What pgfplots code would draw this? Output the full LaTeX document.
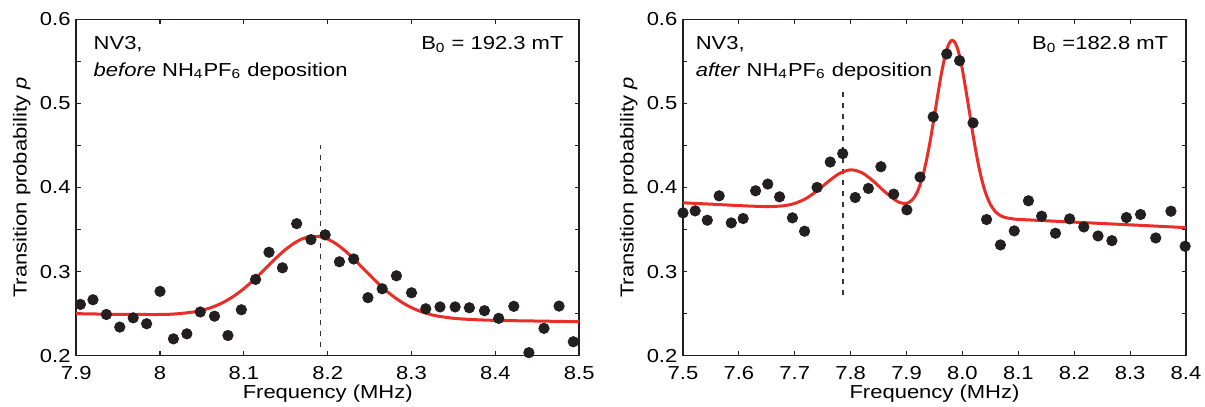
\documentclass[border=0pt]{standalone}
\usepackage{fontspec}
\setmainfont{Liberation Sans}[FakeStretch=1.17]
\usepackage{pgfplots}
\pgfplotsset{compat=1.18}
\definecolor{fitred}{RGB}{235,45,40}
\definecolor{axisblack}{RGB}{35,31,32}
\tikzset{note/.style={inner sep=0pt}}
\pgfplotsset{
  panel/.style={
    scale only axis, width=251.5pt, height=168.2pt,
    ymin=0.2, ymax=0.6,
    ytick={0.2,0.3,0.4,0.5,0.6},
    minor ytick={0.25,0.35,0.45,0.55},
    major tick length=2.2pt, minor tick length=2.2pt,
    tick style={axisblack, line width=0.6pt},
    axis line style={axisblack, line width=0.8pt},
    /pgf/number format/assume math mode=true,
    xticklabel style={yshift=-2pt},
    yticklabel style={xshift=0.5pt},
    ylabel={Transition probability \textit{p}},
    xlabel={Frequency (MHz)},
    ylabel style={at={(axis description cs:-0.0984,0.5)}, anchor=base},
    xlabel style={at={(axis description cs:0.5,0)}, anchor=base, yshift=-21.3pt},
    clip=false,
  },
  dots/.style={only marks, mark=*, mark size=2.6pt, axisblack},
  fit/.style={fitred, line width=1.5pt, smooth, no marks},
  vdash/.style={black!80, line width=0.8pt, dash pattern=on 2.5pt off 3pt, no marks},
}
\begin{document}
\fontsize{9.4pt}{11pt}\selectfont
\begin{tikzpicture}
\path[use as bounding box] (-38.1pt,-25.65pt) rectangle (564.4pt,177.85pt);
% ---------- left panel ----------
\begin{axis}[panel, at={(0pt,0pt)}, anchor=south west,
  xmin=7.9, xmax=8.5,
  xtick={7.9,8.0,8.1,8.2,8.3,8.4,8.5},
  xticklabels={7.9,8,8.1,8.2,8.3,8.4,8.5}]
\addplot[vdash] coordinates {(8.1913,0.21) (8.1913,0.4505)};
\addplot[dots] coordinates {
(7.905,0.261) (7.920,0.2665) (7.936,0.249) (7.952,0.234) (7.968,0.245)
(7.984,0.238) (8.000,0.2765) (8.016,0.220) (8.032,0.226) (8.048,0.252)
(8.065,0.247) (8.081,0.224) (8.097,0.2546) (8.114,0.2907) (8.130,0.323)
(8.146,0.3045) (8.163,0.357) (8.180,0.338) (8.197,0.3437) (8.214,0.3117)
(8.231,0.315) (8.248,0.269) (8.265,0.2796) (8.282,0.295) (8.300,0.2748)
(8.317,0.2558) (8.334,0.258) (8.352,0.258) (8.369,0.257) (8.387,0.2535)
(8.404,0.2444) (8.422,0.2587) (8.440,0.2036) (8.458,0.2325) (8.476,0.259)
(8.493,0.2166)};
\addplot[fit] coordinates {
(7.90,0.2500) (7.95,0.2492) (8.00,0.2490) (8.02,0.2498) (8.04,0.2520)
(8.05,0.2540) (8.06,0.2569) (8.07,0.2608) (8.08,0.2659) (8.09,0.2722)
(8.10,0.2798) (8.11,0.2885) (8.12,0.2980) (8.13,0.3079) (8.14,0.3177)
(8.15,0.3265) (8.16,0.3338) (8.17,0.3391) (8.18,0.3417) (8.19,0.3416)
(8.20,0.3386) (8.21,0.3330) (8.22,0.3254) (8.23,0.3162) (8.24,0.3062)
(8.25,0.2960) (8.26,0.2861) (8.27,0.2771) (8.28,0.2692) (8.29,0.2626)
(8.30,0.2571) (8.31,0.2529) (8.32,0.2497) (8.33,0.2473) (8.35,0.2445)
(8.37,0.2431) (8.40,0.2420) (8.45,0.2412) (8.50,0.2404)};
\node[note, anchor=base west, xshift=8.55pt, yshift=-15pt] at (rel axis cs:0,1) {NV3,};
\node[note, anchor=base west, xshift=8.55pt, yshift=-28.35pt] at (rel axis cs:0,1) {\textit{before} NH\textsubscript{4}PF\textsubscript{6} deposition};
\node[note, anchor=base east, xshift=-7.65pt, yshift=-15pt] at (rel axis cs:1,1) {B\textsubscript{0} = 192.3 mT};
\end{axis}
% ---------- right panel ----------
\begin{axis}[panel, at={(303.4pt,0pt)}, anchor=south west,
  xmin=7.5, xmax=8.4,
  xtick={7.5,7.6,7.7,7.8,7.9,8.0,8.1,8.2,8.3,8.4},
  xticklabels={7.5,7.6,7.7,7.8,7.9,8.0,8.1,8.2,8.3,8.4}]
\addplot[vdash] coordinates {(7.7858,0.2716) (7.7858,0.5142)};
\addplot[dots] coordinates {
(7.5000,0.3698) (7.5218,0.3722) (7.5435,0.3611) (7.5647,0.3901) (7.5864,0.3579)
(7.6076,0.3631) (7.6299,0.3961) (7.6517,0.4041) (7.6728,0.3889) (7.6958,0.3639)
(7.7175,0.3480) (7.7399,0.4001) (7.7634,0.4303) (7.7858,0.4403) (7.8082,0.3881)
(7.8317,0.3989) (7.8541,0.4247) (7.8770,0.3921) (7.9006,0.3734) (7.9242,0.4124)
(7.9477,0.4840) (7.9719,0.5588) (7.9949,0.5508) (8.0190,0.4768) (8.0432,0.3619)
(8.0680,0.3317) (8.0927,0.3484) (8.1181,0.3842) (8.1417,0.3659) (8.1665,0.3456)
(8.1918,0.3627) (8.2172,0.3531) (8.2426,0.3424) (8.2674,0.3368) (8.2934,0.3643)
(8.3187,0.3679) (8.3459,0.3400) (8.3731,0.3718) (8.3985,0.3301)};
\addplot[fit] coordinates {
(7.50,0.3818) (7.55,0.3802) (7.60,0.3785) (7.65,0.3773) (7.68,0.3783)
(7.70,0.3811) (7.72,0.3869) (7.74,0.3961) (7.76,0.4071) (7.78,0.4167)
(7.80,0.4210) (7.82,0.4176) (7.84,0.4079) (7.86,0.3956) (7.88,0.3849)
(7.89,0.3817) (7.90,0.3812) (7.91,0.3851) (7.92,0.3959) (7.93,0.4162)
(7.94,0.4470) (7.95,0.4860) (7.96,0.5268) (7.965,0.5445) (7.97,0.5595)
(7.975,0.5696) (7.98,0.5746) (7.985,0.5739) (7.99,0.5674) (7.995,0.5559)
(8.00,0.5400) (8.01,0.5003) (8.02,0.4584) (8.03,0.4225) (8.04,0.3964)
(8.05,0.3798) (8.06,0.3705) (8.07,0.3659) (8.08,0.3638) (8.09,0.3628)
(8.10,0.3621) (8.20,0.3588) (8.30,0.3556) (8.40,0.3523)};
\node[note, anchor=base west, xshift=6.2pt, yshift=-15pt] at (rel axis cs:0,1) {NV3,};
\node[note, anchor=base west, xshift=6.2pt, yshift=-28.35pt] at (rel axis cs:0,1) {\textit{after} NH\textsubscript{4}PF\textsubscript{6} deposition};
\node[note, anchor=base east, xshift=-8.7pt, yshift=-15pt] at (rel axis cs:1,1) {B\textsubscript{0} =182.8 mT};
\end{axis}
\end{tikzpicture}
\end{document}
